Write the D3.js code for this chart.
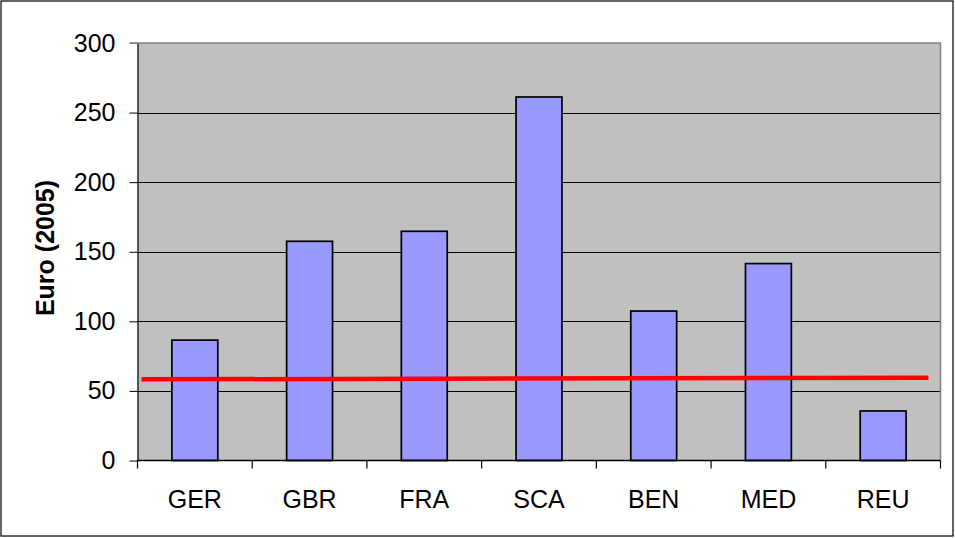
<!DOCTYPE html>
<html lang="en">
<head>
	<meta charset="UTF-8">
	<title>Euro (2005)</title>
	<script src="https://cdn.jsdelivr.net/npm/d3@7"></script>
	<style>
		body{margin:0;background:#fff;}
		svg{display:block;font-family:Arial,"Liberation Sans",sans-serif;}
	</style>
</head>
<body>
	<svg id="svg" width="955" height="538"></svg>
	<script>
		// data
		var regions = ["GER","GBR","FRA","SCA","BEN","MED","REU"];
		var values = [86.5, 157.5, 164.7, 261.2, 107.4, 141.5, 35.6];
		var yTicks = [0, 50, 100, 150, 200, 250, 300];
		// red reference line: start / end values (slightly rising)
		var refLine = [{t:0.005, v:58.3}, {t:0.985, v:59.5}];

		var svg = d3.select("svg"),
			W = 955, H = 538,
			m = {left:137.5, right:940.5, top:43, bottom:460.5};

		svg.append("rect")
			.attr("x",1).attr("y",1).attr("width",W-3).attr("height",H-3)
			.attr("fill","#fff").attr("stroke","#000").attr("stroke-width",1.2);

		var x = d3.scaleBand().domain(regions).range([m.left,m.right]).paddingInner(0.6).paddingOuter(0.3);
		var y = d3.scaleLinear().domain([0,300]).range([m.bottom,m.top]);
		var t = d3.scaleLinear().domain([0,1]).range([m.left,m.right]);

		// plot background
		svg.append("rect")
			.attr("x",m.left).attr("y",m.top)
			.attr("width",m.right-m.left).attr("height",m.bottom-m.top)
			.attr("fill","#C0C0C0");

		// gridlines
		svg.append("g").selectAll("line")
			.data(yTicks.filter(d=>d>0 && d<300))
			.enter().append("line")
			.attr("x1",m.left).attr("x2",m.right)
			.attr("y1",d=>Math.round(y(d))+0.5).attr("y2",d=>Math.round(y(d))+0.5)
			.attr("stroke","#000").attr("stroke-width",1);

		// top and right border in gray
		svg.append("path")
			.attr("d","M"+(m.left-8)+","+m.top+"H"+m.right+"V"+m.bottom)
			.attr("fill","none").attr("stroke","#808080").attr("stroke-width",1.5);

		// bars
		svg.append("g").selectAll("rect")
			.data(values)
			.enter().append("rect")
			.attr("x",(d,i)=>x(regions[i]))
			.attr("y",d=>y(d))
			.attr("width",x.bandwidth())
			.attr("height",d=>y(0)-y(d))
			.attr("fill","#9999FF")
			.attr("stroke","#000").attr("stroke-width",1.7);

		// y axis
		var yAxis = svg.append("g")
			.attr("transform","translate("+m.left+",0)")
			.call(d3.axisLeft(y).tickValues(yTicks).tickSize(8).tickSizeOuter(0).tickPadding(14));
		yAxis.select(".domain").attr("stroke","#000").attr("stroke-width",1.2);
		yAxis.selectAll(".tick line").attr("stroke","#000");
		yAxis.selectAll(".tick").filter(d=>d===300).select("line").attr("stroke","#808080");
		yAxis.selectAll("text").attr("font-size",25).attr("fill","#000")
			.attr("font-family","Arial,'Liberation Sans',sans-serif");

		// x axis with ticks at band edges
		var xAxis = svg.append("g").attr("transform","translate(0,"+m.bottom+")");
		xAxis.append("line").attr("x1",m.left).attr("x2",m.right)
			.attr("stroke","#000").attr("stroke-width",1.5);
		var edges = regions.map(r=>x(r) - (x.step()-x.bandwidth())/2);
		edges.push(m.right);
		xAxis.selectAll(".edge").data(edges).enter().append("line")
			.attr("x1",d=>d).attr("x2",d=>d).attr("y1",0).attr("y2",8)
			.attr("stroke","#000").attr("stroke-width",1.2);
		xAxis.selectAll("text").data(regions).enter().append("text")
			.attr("x",d=>x(d)+x.bandwidth()/2)
			.attr("y",47)
			.attr("text-anchor","middle")
			.attr("font-size",25)
			.text(d=>d);

		// red reference line
		svg.append("path")
			.datum(refLine)
			.attr("d",d3.line().x(d=>t(d.t)).y(d=>y(d.v)))
			.attr("fill","none").attr("stroke","#FF0000").attr("stroke-width",4.5);

		// y axis title
		svg.append("text")
			.attr("transform","translate(54,248) rotate(-90)")
			.attr("text-anchor","middle")
			.attr("font-size",25)
			.attr("font-weight","bold")
			.text("Euro (2005)");
	</script>
</body>
</html>
